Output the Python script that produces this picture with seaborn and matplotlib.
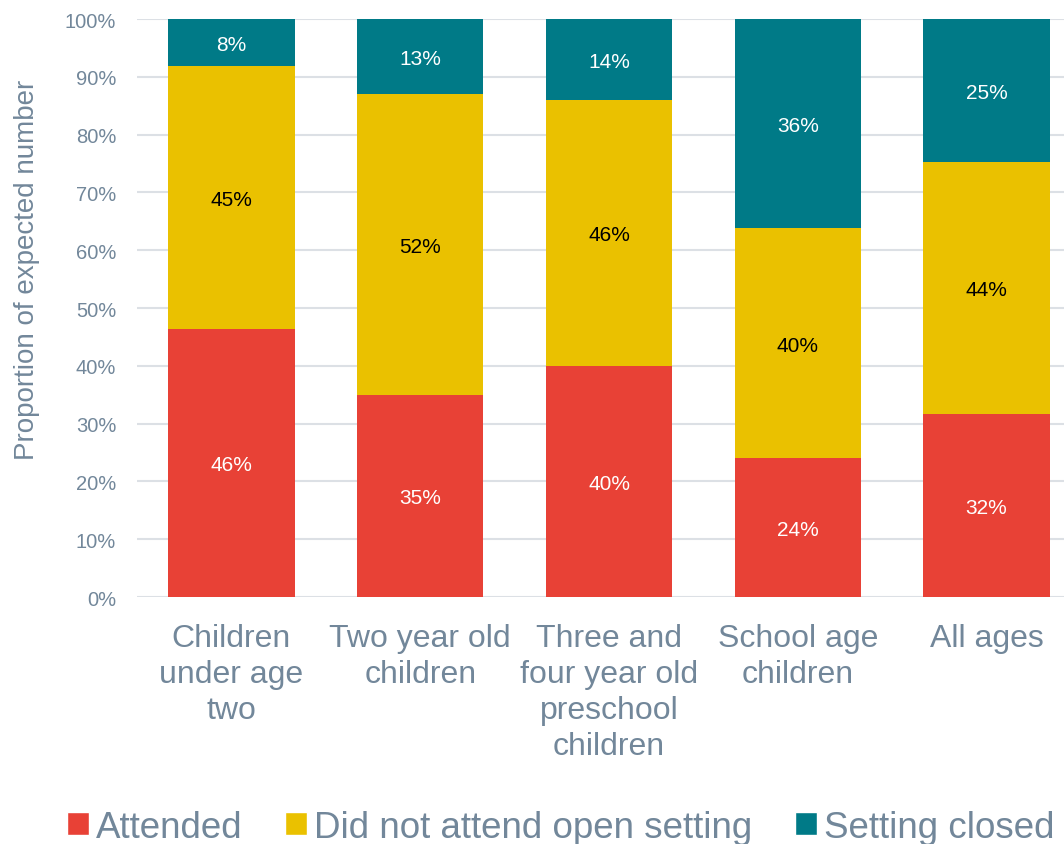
import matplotlib
matplotlib.use("Agg")
import pandas as pd
import numpy as np
import matplotlib.pyplot as plt
from matplotlib.patches import Patch
import seaborn as sns

sns.set_style("white")
plt.rcParams["font.family"] = ["Liberation Sans", "DejaVu Sans"]

# data (percent of expected number)
categories = [
    "Children\nunder age\ntwo",
    "Two year old\nchildren",
    "Three and\nfour year old\npreschool\nchildren",
    "School age\nchildren",
    "All ages",
]
attended = [46.4, 35.0, 40.0, 24.0, 31.7]
did_not_attend = [45.5, 52.0, 46.0, 39.8, 43.6]
setting_closed = [8.1, 13.0, 14.0, 36.2, 24.7]
label_attended = ["46%", "35%", "40%", "24%", "32%"]
label_did_not = ["45%", "52%", "46%", "40%", "44%"]
label_closed = ["8%", "13%", "14%", "36%", "25%"]

red = "#E84136"
yellow = "#EAC100"
teal = "#007A87"
grey = "#72879A"

df = pd.DataFrame({
    "category": categories,
    "attended": attended,
    "did_not": did_not_attend,
    "closed": setting_closed,
})
df["top_red"] = df["attended"]
df["top_yellow"] = df["attended"] + df["did_not"]
df["top_teal"] = df["top_yellow"] + df["closed"]

fig = plt.figure(figsize=(10.64, 8.45), dpi=100)
ax = fig.add_axes([0.1288, 0.2923, 0.8712, 0.684])

# stacked look: draw cumulative totals from tallest to shortest
for col, colr in [("top_teal", teal), ("top_yellow", yellow), ("top_red", red)]:
    sns.barplot(data=df, x="category", y=col, color=colr, saturation=1,
                width=0.67, errorbar=None, linewidth=0, ax=ax, zorder=3)

# segment labels
for i, row in df.iterrows():
    ax.text(i, row["attended"] / 2, label_attended[i], ha="center",
            va="center_baseline", color="white", fontsize=15, zorder=5)
    ax.text(i, row["attended"] + row["did_not"] / 2, label_did_not[i],
            ha="center", va="center_baseline", color="black", fontsize=15,
            zorder=5)
    ax.text(i, row["top_yellow"] + row["closed"] / 2, label_closed[i],
            ha="center", va="center_baseline", color="white", fontsize=15,
            zorder=5)

ax.set_ylim(0, 100)
ax.set_xlim(-0.5, 4.41)
ax.set_yticks(np.arange(0, 101, 10))
ax.set_yticklabels([f"{v}%" for v in range(0, 101, 10)])
ax.yaxis.grid(True, color="#DCE0E5", linewidth=1.5, zorder=0)
ax.set_axisbelow(True)
for s in ax.spines.values():
    s.set_visible(False)

ax.tick_params(axis="y", length=0, pad=15, labelsize=14.5, labelcolor=grey)
ax.tick_params(axis="x", length=0, pad=19, labelsize=23, labelcolor=grey)
for lab in ax.get_xticklabels():
    lab.set_linespacing(1.25)

ax.set_xlabel("")
ax.set_ylabel("Proportion of expected number", fontsize=20, color=grey)
ax.yaxis.set_label_coords(-0.105, 0.567)

handles = [Patch(facecolor=red, label="Attended"),
           Patch(facecolor=yellow, label="Did not attend open setting"),
           Patch(facecolor=teal, label="Setting closed")]
leg = fig.legend(handles=handles, loc="lower center",
                 bbox_to_anchor=(0.527, -0.04), ncol=3, frameon=False,
                 fontsize=26.5, handlelength=0.6, handleheight=0.6,
                 handletextpad=0.2, columnspacing=1.15)
for t in leg.get_texts():
    t.set_color(grey)

plt.savefig("out.png", dpi=100)
plt.close()
